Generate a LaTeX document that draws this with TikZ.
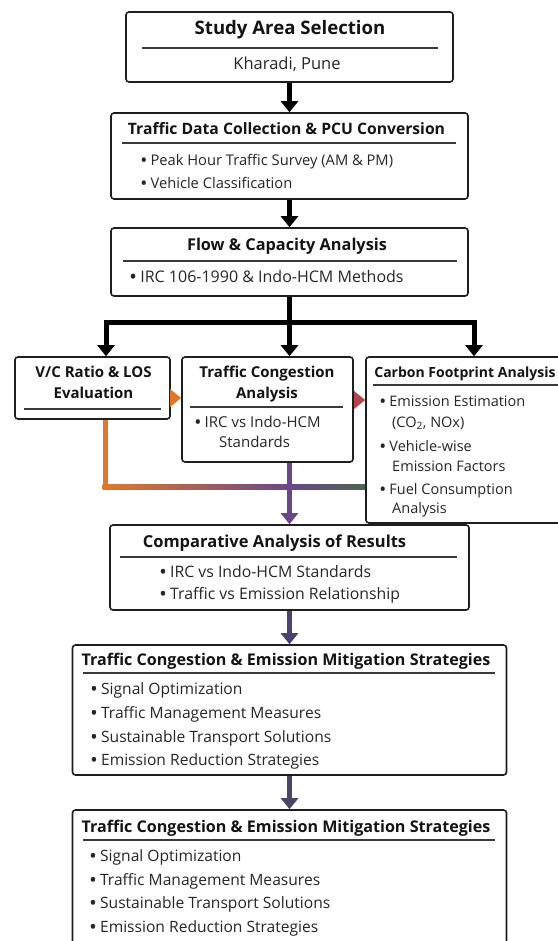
\documentclass[tikz,border=0pt]{standalone}
\usepackage{fontspec}
\setmainfont{Open Sans}
\usetikzlibrary{arrows.meta, positioning}

\definecolor{boxline}{HTML}{1E1E1E}
\definecolor{ruleline}{HTML}{3A3A3A}
\definecolor{orangeA}{HTML}{E0782B}
\definecolor{redA}{HTML}{B5434A}
\definecolor{purpleA}{HTML}{6A4888}
\definecolor{purpleB}{HTML}{4F406F}
\definecolor{slateA}{HTML}{4A4766}
\definecolor{greenA}{HTML}{4D6552}

\newcommand{\bul}{\textbf{•}\ }

\begin{document}
\begin{tikzpicture}[x=1pt, y=-1pt,
    box/.style={draw=boxline, line width=1.6pt, rounded corners=3pt, fill=white, inner sep=0pt},
    ttl/.style={font=\bfseries\fontsize{#1}{#1}\selectfont, inner sep=0pt, text=black!92,
                text height=1.15em, text depth=0.1em},
    itm/.style={font=\fontsize{#1}{#1}\selectfont, inner sep=0pt, anchor=west, text=black!85,
                text height=1.15em, text depth=0.1em},
    rul/.style={draw=ruleline, line width=1.3pt},
    flow arrow/.style={-{Triangle[width=17pt,length=11pt]}, line width=5pt, #1},
    flow arrow/.default=black]

    \useasboundingbox (0,0) rectangle (557,941);
    \fill[white] (0,0) rectangle (557,941);

    % boxes
    \node[box, minimum width=327pt, minimum height=70pt]  (study)   at (289.5,47)    {};
    \node[box, minimum width=357pt, minimum height=86pt]  (collect) at (289.5,156)   {};
    \node[box, minimum width=357pt, minimum height=68pt]  (flow)    at (289.5,262)   {};
    \node[box, minimum width=155pt, minimum height=62pt]  (vc)      at (92.5,388)    {};
    \node[box, minimum width=171pt, minimum height=105pt] (cong)    at (267.5,409.5) {};
    \node[box, minimum width=209pt, minimum height=166pt] (carbon)  at (470.5,440)   {};
    \node[box, minimum width=359pt, minimum height=85pt]  (comp)    at (289.5,567.5) {};
    \node[box, minimum width=434pt, minimum height=130pt] (mitig)   at (289.5,710)   {};
    \node[box, minimum width=434pt, minimum height=155pt] (mitigB)  at (289.5,887.5) {};

    % study area
    \node[ttl=18.6] (studyT) at (290,29) {Study Area Selection};
    \draw[rul] (142,48) -- (438,48);
    \node[itm=16.5, anchor=center] (studyS) at (287,64) {Kharadi, Pune};

    % data collection
    \node[ttl=15.7] (collectT) at (286.5,129) {Traffic Data Collection \& PCU Conversion};
    \draw[rul] (122,143) -- (456,143);
    \node[itm=14.7] (collect1) at (141,160) {\bul Peak Hour Traffic Survey (AM \& PM)};
    \node[itm=14.7] (collect2) at (141,183) {\bul Vehicle Classification};

    % flow and capacity
    \node[ttl=16.3] (flowT) at (287,245) {Flow \& Capacity Analysis};
    \draw[rul] (123,261) -- (457,261);
    \node[itm=16] (flow1) at (130,277) {\bul IRC 106-1990 \& Indo-HCM Methods};

    % v/c and los
    \node[ttl=15] (vcT) at (93.5,372) {V/C Ratio \& LOS};
    \node[ttl=15] (vcT2) at (93.5,393) {Evaluation};
    \draw[rul] (24,409) -- (161,409);

    % congestion
    \node[ttl=15] (congT) at (267,372) {Traffic Congestion};
    \node[ttl=15] (congT2) at (267,393) {Analysis};
    \draw[rul] (190,407) -- (343,407);
    \node[itm=15] (cong1) at (195,422) {\bul IRC vs Indo-HCM};
    \node[itm=15] (cong1b) at (219,442) {Standards};

    % carbon footprint
    \node[ttl=14] (carbonT) at (465,372) {Carbon Footprint Analysis};
    \draw[rul] (373,385) -- (560,385);
    \node[itm=14.5] (carbon1)  at (380,401) {\bul Emission Estimation};
    \node[itm=14.5] (carbon1b) at (392,422) {(CO\textsubscript{2}, NOx)};
    \node[itm=14.5] (carbon2)  at (380,446) {\bul Vehicle-wise};
    \node[itm=14.5] (carbon2b) at (392,466) {Emission Factors};
    \node[itm=14.5] (carbon3)  at (380,489) {\bul Fuel Consumption};
    \node[itm=14.5] (carbon3b) at (392,508) {Analysis};

    % comparative
    \node[ttl=16.5] (compT) at (274.5,542) {Comparative Analysis of Results};
    \draw[rul] (120,557) -- (457,557);
    \node[itm=15.8] (comp1) at (160,572) {\bul IRC vs Indo-HCM Standards};
    \node[itm=15.8] (comp2) at (160,594) {\bul Traffic vs Emission Relationship};

    % mitigation
    \node[ttl=16.1] (mitigT) at (286,660) {Traffic Congestion \& Emission Mitigation Strategies};
    \draw[rul] (83,673) -- (495,673);
    \node[itm=15.6] (mitig1) at (91,689) {\bul Signal Optimization};
    \node[itm=15.6] (mitig2) at (91,713) {\bul Traffic Management Measures};
    \node[itm=15.6] (mitig3) at (91,737) {\bul Sustainable Transport Solutions};
    \node[itm=15.6] (mitig4) at (91,760) {\bul Emission Reduction Strategies};

    \node[ttl=16.1] (mitigBT) at (286,827) {Traffic Congestion \& Emission Mitigation Strategies};
    \draw[rul] (83,840) -- (495,840);
    \node[itm=15.6] (mitigB1) at (90,856) {\bul Signal Optimization};
    \node[itm=15.6] (mitigB2) at (90,880) {\bul Traffic Management Measures};
    \node[itm=15.6] (mitigB3) at (90,903) {\bul Sustainable Transport Solutions};
    \node[itm=15.6] (mitigB4) at (90,927) {\bul Emission Reduction Strategies};

    % connectors
    \coordinate (forkL) at (106,322);
    \coordinate (forkR) at (474,322);
    \coordinate (lowL)  at (105,487);

    \draw[flow arrow] (study.south) -- (collect.north);
    \draw[flow arrow] (collect.south) -- (flow.north);
    \draw[line width=5pt, line cap=rect] (forkL) -- (forkR);
    \draw[flow arrow] (flow.south) -- (flow.south |- cong.north);
    \draw[flow arrow] (forkL) -- (forkL |- vc.north);
    \draw[flow arrow] (forkR) -- (forkR |- carbon.north);

    \draw[flow arrow=orangeA] ([yshift=-10pt]vc.east) -- ([yshift=-10pt]vc.east -| cong.west);
    \draw[flow arrow=redA] ([yshift=9.5pt]cong.east) -- ([yshift=9.5pt]cong.east -| carbon.west);

    \draw[line width=5pt, orangeA] (vc.south -| lowL) -- (lowL);
    \shade[left color=orangeA, middle color=redA, right color=purpleA] (102.5,484.5) rectangle (289.5,489.5);
    \shade[left color=purpleA, right color=greenA] (289.5,484.5) rectangle (carbon.west |- 0,489.5);

    \draw[flow arrow=purpleA] (cong.south -| comp.north) -- (comp.north);
    \draw[flow arrow=purpleB] (comp.south) -- (mitig.north);
    \draw[flow arrow=slateA] (mitig.south) -- (mitigB.north);
\end{tikzpicture}
\end{document}
